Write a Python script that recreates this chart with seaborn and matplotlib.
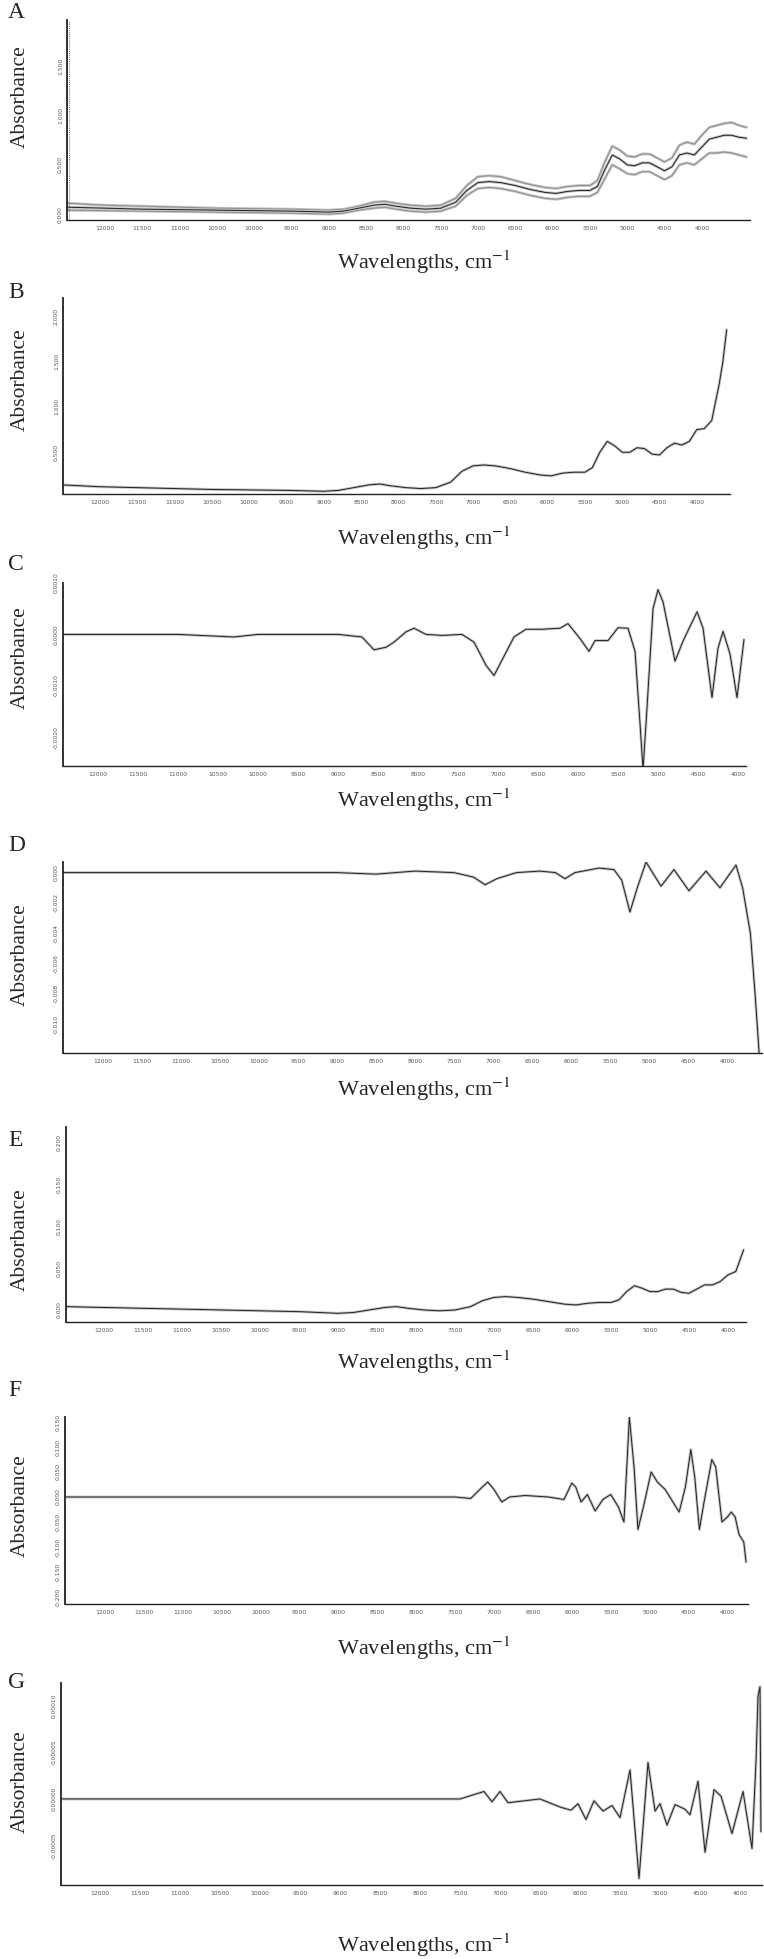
import matplotlib
matplotlib.use("Agg")
import numpy as np
import pandas as pd
import matplotlib.pyplot as plt
import seaborn as sns

# ---- data ----
wn_abs = [12500, 12000, 11500, 11000, 10500, 10000, 9500, 9000, 8800, 8600, 8400, 8250, 8100,
          7900, 7700, 7500, 7300, 7150, 7000, 6850, 6700, 6500, 6300, 6100, 5950, 5800, 5650,
          5500, 5400, 5300, 5200, 5100, 5000, 4900, 4800, 4700, 4600, 4500, 4400, 4300, 4200,
          4100, 4000, 3900, 3800]

wn_a = wn_abs + [3700, 3600, 3500, 3400]
a_low = [0.04, 0.035, 0.03, 0.025, 0.02, 0.015, 0.01, 0.0, 0.01, 0.04, 0.06, 0.07, 0.05,
         0.03, 0.02, 0.03, 0.08, 0.19, 0.26, 0.27, 0.26, 0.23, 0.19, 0.16, 0.15, 0.17, 0.18,
         0.18, 0.22, 0.36, 0.50, 0.46, 0.41, 0.40, 0.43, 0.43, 0.39, 0.35, 0.39, 0.50, 0.52,
         0.50, 0.56, 0.62, 0.62, 0.63, 0.62, 0.60, 0.58]
a_mid = [0.07, 0.06, 0.05, 0.045, 0.04, 0.035, 0.03, 0.02, 0.03, 0.06, 0.09, 0.10, 0.08,
         0.06, 0.05, 0.06, 0.12, 0.24, 0.32, 0.33, 0.32, 0.29, 0.25, 0.22, 0.21, 0.23, 0.24,
         0.24, 0.28, 0.45, 0.60, 0.56, 0.50, 0.49, 0.52, 0.52, 0.48, 0.44, 0.48, 0.60, 0.62,
         0.60, 0.68, 0.76, 0.78, 0.80, 0.80, 0.78, 0.77]
a_high = [0.11, 0.09, 0.08, 0.07, 0.06, 0.055, 0.05, 0.04, 0.05, 0.08, 0.12, 0.13, 0.11,
          0.09, 0.08, 0.09, 0.16, 0.29, 0.38, 0.39, 0.38, 0.34, 0.30, 0.27, 0.26, 0.28, 0.29,
          0.29, 0.34, 0.53, 0.69, 0.65, 0.59, 0.58, 0.61, 0.61, 0.57, 0.53, 0.57, 0.70, 0.73,
          0.71, 0.80, 0.88, 0.90, 0.92, 0.93, 0.90, 0.88]

wn_b = wn_abs + [3700, 3650, 3600]
b_mid = [0.14, 0.12, 0.11, 0.10, 0.09, 0.085, 0.08, 0.07, 0.08, 0.11, 0.14, 0.15, 0.13,
         0.11, 0.10, 0.11, 0.17, 0.29, 0.35, 0.36, 0.35, 0.32, 0.28, 0.25, 0.24, 0.27, 0.28,
         0.28, 0.33, 0.50, 0.62, 0.57, 0.50, 0.50, 0.55, 0.54, 0.48, 0.47, 0.55, 0.60, 0.58,
         0.62, 0.75, 0.76, 0.85, 1.25, 1.50, 1.85]

wn_c = [12450, 12000, 11000, 10300, 10000, 9000, 8700, 8550, 8400, 8300, 8150, 8050, 7900,
        7700, 7450, 7300, 7150, 7050, 6950, 6800, 6650, 6450, 6225, 6125, 5975, 5862, 5787,
        5625, 5500, 5375, 5287, 5225, 5187, 5137, 5062, 5000, 4937, 4787, 4687, 4512, 4437,
        4325, 4250, 4187, 4100, 4012, 3925]
c_mid = [0.0, 0.0, 0.0, -0.05, 0.0, 0.0, -0.05, -0.3, -0.25, -0.15, 0.05, 0.12, 0.0,
         -0.02, 0.0, -0.15, -0.6, -0.8, -0.5, -0.05, 0.1, 0.1, 0.12, 0.21, -0.08, -0.33, -0.12,
         -0.12, 0.13, 0.12, -0.33, -1.73, -2.63, -1.42, 0.5, 0.87, 0.63, -0.52, -0.13, 0.44, 0.12,
         -1.23, -0.27, 0.06, -0.38, -1.23, -0.1]   # x 1e-3

wn_d = [12500, 11000, 10000, 9000, 8500, 8000, 7500, 7250, 7100, 6950, 6700, 6400, 6200, 6077,
        5950, 5641, 5450, 5350, 5244, 5150, 5038, 4846, 4680, 4487, 4269, 4090, 3885, 3800,
        3700, 3640, 3580]
d_mid = [0.0, 0.0, 0.0, 0.0, -0.1, 0.1, 0.0, -0.3, -0.8, -0.4, 0.0, 0.1, 0.0, -0.4,
         0.0, 0.3, 0.2, -0.5, -2.6, -1.0, 0.7, -0.9, 0.2, -1.2, 0.1, -1.0, 0.5, -1.0,
         -4.0, -8.0, -12.5]  # x 1e-3

e_mid = [0.004, 0.003, 0.002, 0.001, 0.0, -0.001, -0.002, -0.004, -0.003, 0.0, 0.003, 0.004,
         0.002, 0.0, -0.001, 0.0, 0.004, 0.011, 0.015, 0.016, 0.015, 0.013, 0.010, 0.007, 0.006,
         0.008, 0.009, 0.009, 0.012, 0.022, 0.029, 0.026, 0.022, 0.022, 0.025, 0.025, 0.021,
         0.020, 0.025, 0.030, 0.030, 0.034, 0.042, 0.046, 0.072]

wn_f = [12500, 11000, 10000, 9000, 8000, 7500, 7300, 7150, 7080, 7000, 6900, 6800, 6600, 6300,
        6100, 6000, 5950, 5880, 5800, 5700, 5600, 5500, 5400, 5330, 5260, 5200, 5150, 5080,
        4980, 4900, 4800, 4700, 4620, 4540, 4470, 4420, 4360, 4300, 4200, 4150, 4070, 4000,
        3950, 3900, 3850, 3790, 3760]
f_mid = [0.0, 0.0, 0.0, 0.0, 0.0, 0.0, -0.003, 0.02, 0.03, 0.015, -0.01, 0.0, 0.003, 0.0,
         -0.005, 0.028, 0.02, -0.01, 0.005, -0.028, -0.005, 0.005, -0.02, -0.05, 0.16, 0.06,
         -0.065, -0.02, 0.05, 0.03, 0.015, -0.01, -0.03, 0.02, 0.095, 0.04, -0.065, -0.01, 0.075,
         0.06, -0.05, -0.04, -0.03, -0.04, -0.075, -0.09, -0.13]

wn_g = [12500, 11000, 10000, 9000, 8000, 7500, 7200, 7100, 7000, 6900, 6500, 6237, 6112, 6025,
        5925, 5825, 5712, 5600, 5500, 5375, 5262, 5150, 5062, 5000, 4912, 4812, 4687, 4625,
        4525, 4437, 4325, 4237, 4100, 3962, 3850, 3800, 3775, 3750, 3738]
g_mid = [0.0, 0.0, 0.0, 0.0, 0.0, 0.0, 0.8, -0.3, 0.8, -0.4, 0.0, -0.9, -1.2, -0.5,
         -2.2, -0.2, -1.3, -0.7, -2.0, 3.1, -8.5, 3.9, -1.3, -0.5, -2.8, -0.6, -1.1, -1.7,
         1.9, -5.7, 1.0, 0.3, -3.7, 0.8, -5.3, 4.0, 11.0, 12.0, -3.5]  # x 1e-5

letters = ["A", "B", "C", "D", "E", "F", "G"]

# ---- layout (pixels in the 764 x 1959 figure) ----
W, H = 764, 1959
sns.set_theme(style="white")
plt.rcParams['font.family'] = ['DejaVu Sans']
fig = plt.figure(figsize=(W / 100, H / 100), dpi=100)


def rect(l, t, r, b):
    return [l / W, 1 - b / H, (r - l) / W, (b - t) / H]


def xlim_for(left_px, right_px, x12000, scale):
    return (12000 + (x12000 - left_px) / scale, 12000 - (right_px - x12000) / scale)


panels = [
    # box, x12000 px, px per cm-1, ylim, yticks, fmt, label y, ylabel y, xlabel y
    dict(box=(67, 20, 750, 220), x0=105, sc=0.0746, ylim=(-0.06, 1.97),
         yt=[0, 0.5, 1.0, 1.5], fmt="{:.3f}", ly=13, aby=97, xly=262),
    dict(box=(63, 298, 730, 494), x0=100, sc=0.0746, ylim=(0.04, 2.2),
         yt=[0.5, 1.0, 1.5, 2.0], fmt="{:.3f}", ly=292, aby=380, xly=538),
    dict(box=(63, 583, 746, 766), x0=98, sc=0.080, ylim=(-0.00256, 0.00096),
         yt=[0.001, 0, -0.001, -0.002], fmt="{:.4f}", ly=564, aby=658, xly=800),
    dict(box=(63, 862, 762, 1053), x0=103, sc=0.078, ylim=(-0.0119, 0.0007),
         yt=[0, -0.002, -0.004, -0.006, -0.008, -0.010], fmt="{:.3f}", ly=846, aby=955, xly=1089),
    dict(box=(66, 1127, 746, 1322), x0=104, sc=0.078, ylim=(-0.0144, 0.219),
         yt=[0, 0.05, 0.10, 0.15, 0.20], fmt="{:.3f}", ly=1141, aby=1240, xly=1362),
    dict(box=(65, 1417, 748, 1604), x0=105, sc=0.0778, ylim=(-0.214, 0.16),
         yt=[0.15, 0.1, 0.05, 0, -0.05, -0.1, -0.15, -0.2], fmt="{:.3f}", ly=1390, aby=1506, xly=1648),
    dict(box=(61, 1683, 762, 1885), x0=100, sc=0.080, ylim=(-0.000092, 0.000124),
         yt=[0.0001, 0.00005, 0, -0.00005], fmt="{:.5f}", ly=1682, aby=1782, xly=1945),
]

curves = [
    [(wn_a, a_low, "#8f8f8f"), (wn_a, a_high, "#8f8f8f"), (wn_a, a_mid, "#222222")],
    [(wn_b, b_mid, "#222222")],
    [(wn_c, [v * 1e-3 for v in c_mid], "#222222")],
    [(wn_d, [v * 1e-3 for v in d_mid], "#222222")],
    [(wn_abs, e_mid, "#222222")],
    [(wn_f, f_mid, "#222222")],
    [(wn_g, [v * 1e-5 for v in g_mid], "#222222")],
]

serif = ["Liberation Serif", "DejaVu Serif"]

for i, (p, cs, letter) in enumerate(zip(panels, curves, letters)):
    l, t, r, b = p["box"]
    ax = fig.add_axes(rect(l, t, r, b))
    for wn, vals, col in cs:
        df = pd.DataFrame({"wn": wn, "val": vals})
        # light halo gives the bundle-of-spectra look
        sns.lineplot(data=df, x="wn", y="val", ax=ax, color="#c2c2c2", lw=2.0,
                     sort=False, estimator=None)
        sns.lineplot(data=df, x="wn", y="val", ax=ax, color=col, lw=0.7,
                     sort=False, estimator=None)
    xl = xlim_for(l, r, p["x0"], p["sc"])
    ax.set_xlim(*xl)
    ax.set_ylim(*p["ylim"])
    if i == 0:
        # dotted edge line next to the y axis in panel A
        ax.axvline(xl[0] - 30, color="#444444", lw=0.6, ls=(0, (1, 1.5)))
    ax.set_xticks(np.arange(12000, 3999, -500))
    ax.set_xticklabels([str(v) for v in range(12000, 3999, -500)])
    ax.set_yticks(p["yt"])
    ax.set_yticklabels([p["fmt"].format(v) for v in p["yt"]])
    ax.set_xlabel("")
    ax.set_ylabel("")
    for side in ["top", "right"]:
        ax.spines[side].set_visible(False)
    ax.spines["left"].set_color("#222222")
    ax.spines["bottom"].set_color("#222222")
    ax.spines["left"].set_linewidth(1.3)
    ax.spines["bottom"].set_linewidth(1.0)
    ax.tick_params(axis="x", labelsize=4.3, colors="#555555", length=2, width=0.5, pad=2)
    ax.tick_params(axis="y", labelsize=4.3, colors="#555555", length=2, width=0.5, pad=1,
                   labelrotation=90)
    for lab in ax.get_yticklabels():
        lab.set_verticalalignment("center")
    ax.grid(False)

    fig.text(8 / W, 1 - p["ly"] / H, letter, fontsize=17, family=serif, va="center", ha="left")
    fig.text(20 / W, 1 - p["aby"] / H, "Absorbance", fontsize=15.5, family=serif,
             rotation=90, va="center", ha="center")
    fig.text(424 / W, 1 - p["xly"] / H, "Wavelengths, cm$^{-1}$", fontsize=16, family=serif,
             va="center", ha="center", math_fontfamily="stix")

fig.savefig("out.png", dpi=100, facecolor="white")
